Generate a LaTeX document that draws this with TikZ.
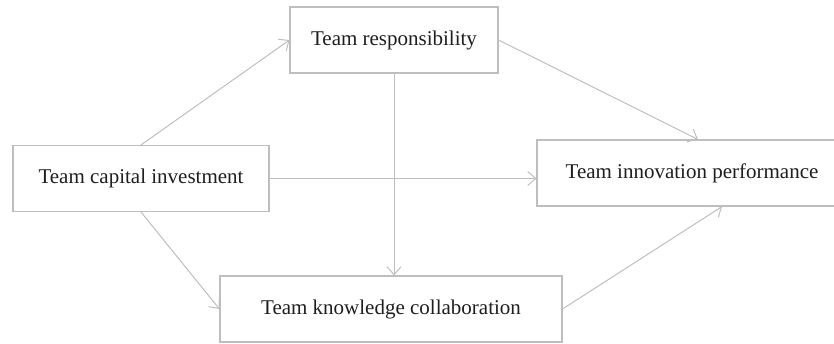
\documentclass[tikz,border=0pt]{standalone}
\usepackage{fontspec}
\setmainfont{Liberation Serif}
\usetikzlibrary{arrows.meta}
\definecolor{linegray}{RGB}{190,190,190}
\definecolor{textgray}{RGB}{30,30,30}
\begin{document}
\begin{tikzpicture}[x=1pt,y=1pt,
  boxnode/.style={draw=linegray,line width=1.1pt,minimum height=66pt,inner sep=0pt,
    text=textgray,font=\fontsize{21}{24}\selectfont},
  conn/.style={draw=linegray,line width=1pt,-{Straight Barb[length=8pt,width=14pt,line width=1pt]}}]
\useasboundingbox (0,0) rectangle (834,343);
\node[boxnode,minimum width=256pt] (cap) at (141,164.5) {Team capital investment};
\node[boxnode,minimum width=208pt] (res) at (394,303) {Team responsibility};
\node[boxnode,minimum width=310pt] (inn) at (692,170) {Team innovation performance};
\node[boxnode,minimum width=342pt] (kno) at (391,34) {Team knowledge collaboration};
\draw[conn] (cap.north) -- (res.west);
\draw[conn] (res.east) -- ([xshift=6pt]inn.north);
\draw[conn] (cap.east) -- (cap.east -| inn.west);
\draw[conn] (res.south) -- (res.south |- kno.north);
\draw[conn] (cap.south) -- (kno.west);
\draw[conn] (kno.east) -- ([xshift=30pt]inn.south);
\end{tikzpicture}
\end{document}
